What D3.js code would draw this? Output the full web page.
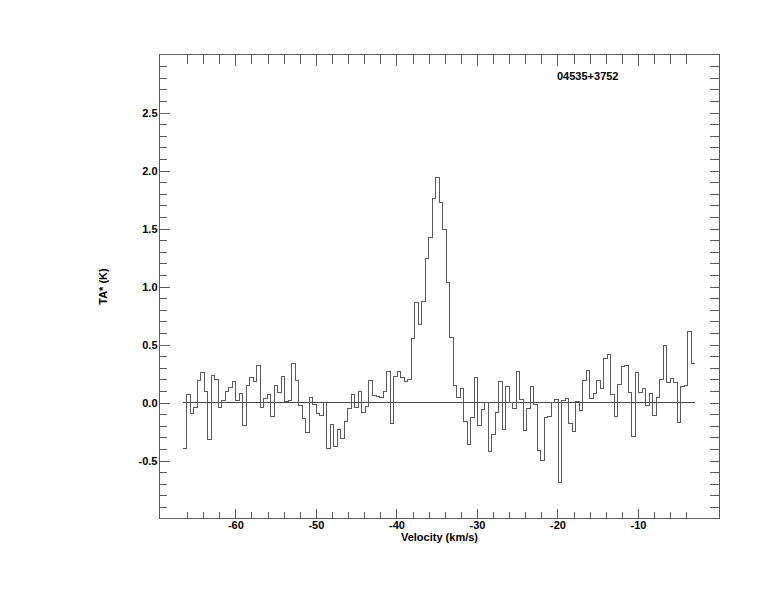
<!DOCTYPE html>
<html>
<head>
<meta charset="utf-8">
<script src="https://cdn.jsdelivr.net/npm/d3@7"></script>
<style>
  html, body { margin: 0; padding: 0; background: #fff; }
  svg { display: block; }
  text { font-family: "Liberation Sans", Arial, Helvetica, sans-serif; font-weight: bold; font-size: 11px; fill: #000; }
</style>
</head>
<body>
<svg id="chart" width="774" height="612"></svg>
<script>
// ---- data ----
const sourceName = "04535+3752";
const xTitle = "Velocity (km/s)";
const yTitle = "TA* (K)";
const xDomain = [-69.42, 0.12];
const yDomain = [-1, 3];
const xMajorTicks = [-60, -50, -40, -30, -20, -10];
const xMinorTicks = [-66, -64, -62, -58, -56, -54, -52, -48, -46, -44, -42, -38, -36, -34, -32, -28, -26, -24, -22, -18, -16, -14, -12, -8, -6, -4];
const yMajorTicks = [-0.5, 0.0, 0.5, 1.0, 1.5, 2.0, 2.5];
const yMinorTicks = [-0.9, -0.8, -0.7, -0.6, -0.4, -0.3, -0.2, -0.1, 0.1, 0.2, 0.3, 0.4, 0.6, 0.7, 0.8, 0.9, 1.1, 1.2, 1.3, 1.4, 1.6, 1.7, 1.8, 1.9, 2.1, 2.2, 2.3, 2.4, 2.6, 2.7, 2.8, 2.9];
// spectral channel grid (first channel edge, channel width in km/s)
const channelStart = -66.46;
const channelWidth = 0.435;
// antenna temperature per channel (K)
const ta = [
  -0.40, 0.07, -0.095, -0.043, 0.187, 0.256, 0.092, -0.319, 0.230, 0.195,
  -0.046, 0.014, 0.092, 0.126, 0.178, 0.020, 0.075, -0.201, 0.144, 0.213,
  0.178, 0.319, -0.046, 0.032, 0.066, -0.124, 0.144, 0.083, 0.221, 0.006,
  0.014, 0.333, 0.187, -0.029, -0.141, -0.261, 0.040, -0.017, -0.095, -0.112,
  0.0, -0.397, -0.193, -0.382, -0.233, -0.307, -0.164, -0.055, 0.066, -0.046,
  0.092, -0.083, -0.032, 0.187, 0.057, 0.049, 0.040, 0.092, 0.264, -0.184,
  0.221, 0.264, 0.213, 0.184, 0.198, 0.549, 0.859, 0.672, 0.868, 1.239,
  1.420, 1.756, 1.937, 1.724, 1.489, 1.032, 0.557, 0.144, 0.040, 0.118,
  -0.161, -0.362, -0.132, 0.213, -0.198, -0.063, 0.0, -0.425, -0.279, -0.089,
  0.178, -0.233, 0.135, 0.0, -0.055, 0.264, 0.023, -0.241, -0.055, 0.135,
  -0.020, -0.414, -0.503, -0.129, -0.124, 0.0, 0.023, -0.693, 0.020, 0.032,
  -0.178, -0.253, 0.008, -0.069, 0.193, 0.273, 0.034, 0.080, 0.187, 0.118,
  0.376, 0.414, 0.069, -0.124, 0.152, 0.307, 0.316, 0.089, -0.293, 0.258,
  0.089, 0.121, -0.026, 0.075, -0.115, 0.040, 0.198, 0.491, 0.175, 0.207,
  0.170, -0.175, 0.141, 0.149, 0.609, 0.333
];

(function () {
// ---- layout ----
const pLeft = 159.5, pRight = 719.5, pTop = 54.5, pBottom = 518.5;
const lineColor = "#5a5a5a";

const svg = d3.select("#chart");
const x = d3.scaleLinear().domain(xDomain).range([pLeft, pRight]);
const y = d3.scaleLinear().domain(yDomain).range([pBottom, pTop]);

function noDomain(g) { g.select(".domain").remove(); g.selectAll(".tick line").attr("stroke", lineColor); }
function plainText(g) { g.selectAll("text").attr("font-size", null).attr("font-family", null).attr("fill", "#000"); }

// bottom axis
svg.append("g").attr("transform", `translate(0,${pBottom})`)
  .call(d3.axisBottom(x).tickValues(xMinorTicks).tickSize(-7).tickFormat(""))
  .call(noDomain);
svg.append("g").attr("transform", `translate(0,${pBottom})`)
  .call(d3.axisBottom(x).tickValues(xMajorTicks).tickSize(-10).tickPadding(3).tickFormat(d => String(d)))
  .call(noDomain).call(plainText);
// top axis
svg.append("g").attr("transform", `translate(0,${pTop})`)
  .call(d3.axisTop(x).tickValues(xMinorTicks).tickSize(-9).tickFormat(""))
  .call(noDomain);
svg.append("g").attr("transform", `translate(0,${pTop})`)
  .call(d3.axisTop(x).tickValues(xMajorTicks).tickSize(-11).tickFormat(""))
  .call(noDomain);
// left axis
svg.append("g").attr("transform", `translate(${pLeft},0)`)
  .call(d3.axisLeft(y).tickValues(yMinorTicks).tickSize(-7).tickFormat(""))
  .call(noDomain);
svg.append("g").attr("transform", `translate(${pLeft},0)`)
  .call(d3.axisLeft(y).tickValues(yMajorTicks).tickSize(-10).tickPadding(2).tickFormat(d => d.toFixed(1)))
  .call(noDomain).call(plainText);
// right axis
svg.append("g").attr("transform", `translate(${pRight},0)`)
  .call(d3.axisRight(y).tickValues(yMinorTicks.concat(yMajorTicks)).tickSize(-10).tickFormat(""))
  .call(noDomain);

svg.selectAll(".tick line").attr("shape-rendering", "crispEdges");

// frame
svg.append("rect")
  .attr("x", pLeft).attr("y", pTop)
  .attr("width", pRight - pLeft).attr("height", pBottom - pTop)
  .attr("fill", "none").attr("stroke", lineColor).attr("shape-rendering", "crispEdges");

// step data
const pts = ta.map((v, i) => [channelStart + i * channelWidth, v]);
pts.push([channelStart + ta.length * channelWidth, ta[ta.length - 1]]);

// zero baseline
svg.append("line")
  .attr("x1", x(channelStart)).attr("x2", x(channelStart + ta.length * channelWidth))
  .attr("y1", y(0)).attr("y2", y(0))
  .attr("stroke", "#444").attr("shape-rendering", "crispEdges");

const line = d3.line().x(d => x(d[0])).y(d => y(d[1])).curve(d3.curveStepAfter);
svg.append("path")
  .attr("d", line(pts))
  .attr("fill", "none").attr("stroke", lineColor).attr("stroke-width", 1)
  .attr("shape-rendering", "crispEdges");

// titles
svg.append("text").attr("x", 557).attr("y", 80).text(sourceName);
svg.append("text").attr("x", (pLeft + pRight) / 2).attr("y", 541).attr("text-anchor", "middle").text(xTitle);
svg.append("text").attr("transform", `translate(107,${(pTop + pBottom) / 2}) rotate(-90)`)
  .attr("text-anchor", "middle").text(yTitle);
})();
</script>
</body>
</html>
